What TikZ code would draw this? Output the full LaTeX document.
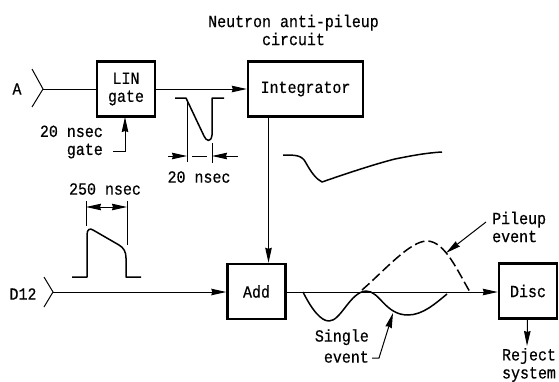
\documentclass[tikz,border=0pt]{standalone}
\usepackage{fontspec}
\setmonofont[FakeBold=0.5,FakeStretch=0.88]{Liberation Mono}
\usepackage{tikz}
\usetikzlibrary{arrows.meta,positioning,calc}

\begin{document}
\begin{tikzpicture}[
        x=1pt, y=-1pt,
        box/.style={rectangle, draw, line width=2.4pt, minimum width=58pt, minimum height=55pt, align=center, font=\ttfamily\fontsize{17}{18}\selectfont, inner sep=0pt},
        lbl/.style={font=\ttfamily\fontsize{17}{18}\selectfont, align=center, inner sep=0pt},
        arrow/.style={-{Stealth[length=15pt,width=6.5pt,inset=1pt]}, line width=1pt},
        wire/.style={line width=1pt},
        pulse/.style={line width=1.5pt, line join=round},
        dim/.style={{Stealth[length=15pt,width=6.5pt,inset=1pt]}-, line width=1pt}
    ]
    \useasboundingbox (0,0) rectangle (559,381);

    % Boxes
    \node[box] (lin) at (126,89) {LIN\\gate};
    \node[box, minimum width=115pt] (int) at (305.5,89) {Integrator};
    \node[box] (add) at (256.5,291.5) {Add};
    \node[box] (disc) at (528,291) {Disc};

    % Inputs
    \node[lbl] (a) at (17,89) {A};
    \coordinate (ain) at (43,89);
    \draw[wire] (32,69) -- (ain) -- (32,107);
    \node[lbl] (d12) at (23,294) {D12};
    \coordinate (din) at (53,292);
    \draw[wire] (44,277) -- (din) -- (44,307);

    % Signal path
    \draw[wire] (ain) -- (lin);
    \draw[arrow] (lin.east |- ain) -- (int.west |- ain);
    \draw[arrow] (int.south -| 268.5,0) -- (add.north -| 268.5,0);
    \draw[arrow] (din) -- (add.west |- din);
    \draw[arrow] (add.east |- din) -- (disc.west |- din);

    % Title
    \node[lbl] (title) at (293.5,30) {Neutron anti-pileup\\circuit};

    % Gate input
    \node[lbl, align=right, anchor=east] (gatelbl) at (103,142) {20 nsec\\gate};
    \coordinate (gatein) at (113,151);
    \draw[arrow] (gatein) -| (125,117);

    % Gate pulse
    \draw[pulse] (175,98) -- (186,98) -- (204,136) .. controls (206,141) and (211,143) .. (212,135) -- (212,98) -- (224,98);
    \draw[wire] (187,100) -- (187,162);
    \draw[wire] (212,143) -- (212,163);
    \draw[dim] (187,156) -- (168,156);
    \draw[dim] (212,156) -- (238,156);
    \draw[wire] (192,156) -- (207,156);
    \node[lbl] (w20) at (199,177) {20 nsec};

    % Integrator output
    \draw[pulse] (283,155) .. controls (296,155) and (302,155) .. (306,163) .. controls (311,172) and (316,179) .. (322,182) .. controls (345,174) and (375,164) .. (395,159) .. controls (410,156) and (425,153) .. (442,152);

    % Wide pulse
    \node[lbl] (w250) at (105,189) {250 nsec};
    \draw[wire] (86,201) -- (86,226);
    \draw[wire] (127,201) -- (127,245);
    \draw[{Stealth[length=15pt,width=6.5pt,inset=1pt]}-{Stealth[length=15pt,width=6.5pt,inset=1pt]}, line width=1pt] (86,207) -- (127,207);
    \draw[pulse] (72,277) -- (87,277) -- (87,235) .. controls (87,229) and (90,228) .. (93,230) -- (119,245) .. controls (124,248) and (126,252) .. (126,258) -- (126,277) -- (141,277);

    % Event traces
    \draw[pulse] (303,292) .. controls (312,310) and (321,321) .. (329,321) .. controls (341,321) and (350,292) .. (366,291) .. controls (380,291) and (385,315) .. (408,315) .. controls (423,315) and (436,303) .. (447,294);
    \draw[pulse, dash pattern=on 10pt off 4pt] (362,290) .. controls (385,270) and (410,241) .. (427,241) .. controls (445,241) and (458,272) .. (470,292);

    % Event labels
    \node[lbl, align=left, anchor=west] (pileup) at (492,227) {Pileup\\event};
    \coordinate (pileupin) at (486,222);
    \draw[arrow] (pileupin) -- (446,253);
    \node[lbl, align=right, anchor=east, font=\ttfamily\fontsize{17}{21}\selectfont] (single) at (369,346) {Single\\event};
    \coordinate (singlein) at (372,358);
    \draw[arrow] (singlein) -- (379,358) -- (393,313);

    % Reject
    \node[lbl] (reject) at (529,365) {Reject\\system};
    \draw[arrow] (disc) -- (527,346);

\end{tikzpicture}
\end{document}
